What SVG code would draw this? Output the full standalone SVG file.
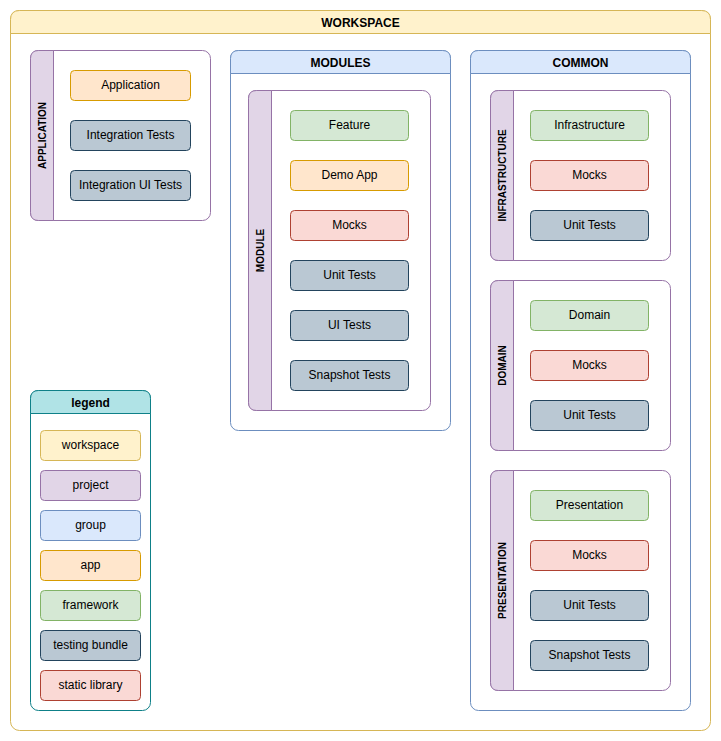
<svg xmlns="http://www.w3.org/2000/svg" width="721" height="741" viewBox="0 0 721 741">
  <style>
    text { font-family: "Liberation Sans", Arial, Helvetica, sans-serif; font-size: 12px; fill: #000; text-anchor: middle; }
    .title { font-weight: bold; }
    .vlabel { font-weight: bold; font-size: 10px; }
    .body { fill: #ffffff; }
    .ws { stroke: #d6b656; }
    .ws-h { fill: #fff2cc; stroke: #d6b656; }
    .proj { stroke: #9673a6; }
    .proj-h { fill: #e1d5e7; stroke: #9673a6; }
    .grp { stroke: #6c8ebf; }
    .grp-h { fill: #dae8fc; stroke: #6c8ebf; }
    .leg { stroke: #0e8088; }
    .leg-h { fill: #b0e3e6; stroke: #0e8088; }
    .workspace { fill: #fff2cc; stroke: #d6b656; }
    .project { fill: #e1d5e7; stroke: #9673a6; }
    .group { fill: #dae8fc; stroke: #6c8ebf; }
    .app { fill: #ffe6cc; stroke: #d79b00; }
    .framework { fill: #d5e8d4; stroke: #82b366; }
    .testing { fill: #bac8d3; stroke: #23445d; }
    .static { fill: #fad9d5; stroke: #ae4132; }
  </style>

  <!-- Workspace container -->
  <g id="workspace">
    <rect class="body ws" x="10.5" y="10.5" width="700" height="720" rx="9"/>
    <path class="ws-h" d="M10.5,33.5 V19.5 Q10.5,10.5 19.5,10.5 H701.5 Q710.5,10.5 710.5,19.5 V33.5 Z"/>
    <text class="title" x="360.5" y="27">WORKSPACE</text>
  </g>

  <!-- Application project -->
  <g id="application">
    <rect class="body proj" x="30.5" y="50.5" width="180" height="170" rx="8"/>
    <path class="proj-h" d="M53.5,50.5 H38.5 Q30.5,50.5 30.5,58.5 V212.5 Q30.5,220.5 38.5,220.5 H53.5 Z"/>
    <text class="vlabel" transform="translate(45.5,135.5) rotate(-90)">APPLICATION</text>
  </g>
  <g id="app-application">
    <rect class="app" x="70.5" y="70.5" width="120" height="30" rx="4"/>
    <text x="130.5" y="89">Application</text>
  </g>
  <g id="app-integration-tests">
    <rect class="testing" x="70.5" y="120.5" width="120" height="30" rx="4"/>
    <text x="130.5" y="139">Integration Tests</text>
  </g>
  <g id="app-integration-ui-tests">
    <rect class="testing" x="70.5" y="170.5" width="120" height="30" rx="4"/>
    <text x="130.5" y="189">Integration UI Tests</text>
  </g>

  <!-- Modules group -->
  <g id="modules">
    <rect class="body grp" x="230.5" y="50.5" width="220" height="380" rx="8"/>
    <path class="grp-h" d="M230.5,73.5 V58.5 Q230.5,50.5 238.5,50.5 H442.5 Q450.5,50.5 450.5,58.5 V73.5 Z"/>
    <text class="title" x="340.5" y="67">MODULES</text>
  </g>
  <g id="module">
    <rect class="body proj" x="248.5" y="90.5" width="182" height="320" rx="8"/>
    <path class="proj-h" d="M271.5,90.5 H256.5 Q248.5,90.5 248.5,98.5 V402.5 Q248.5,410.5 256.5,410.5 H271.5 Z"/>
    <text class="vlabel" transform="translate(263.5,250.5) rotate(-90)">MODULE</text>
  </g>
  <g id="module-feature">
    <rect class="framework" x="290.5" y="110.5" width="118" height="30" rx="4"/>
    <text x="349.5" y="129">Feature</text>
  </g>
  <g id="module-demo-app">
    <rect class="app" x="290.5" y="160.5" width="118" height="30" rx="4"/>
    <text x="349.5" y="179">Demo App</text>
  </g>
  <g id="module-mocks">
    <rect class="static" x="290.5" y="210.5" width="118" height="30" rx="4"/>
    <text x="349.5" y="229">Mocks</text>
  </g>
  <g id="module-unit-tests">
    <rect class="testing" x="290.5" y="260.5" width="118" height="30" rx="4"/>
    <text x="349.5" y="279">Unit Tests</text>
  </g>
  <g id="module-ui-tests">
    <rect class="testing" x="290.5" y="310.5" width="118" height="30" rx="4"/>
    <text x="349.5" y="329">UI Tests</text>
  </g>
  <g id="module-snapshot-tests">
    <rect class="testing" x="290.5" y="360.5" width="118" height="30" rx="4"/>
    <text x="349.5" y="379">Snapshot Tests</text>
  </g>

  <!-- Common group -->
  <g id="common">
    <rect class="body grp" x="470.5" y="50.5" width="220" height="660" rx="8"/>
    <path class="grp-h" d="M470.5,73.5 V58.5 Q470.5,50.5 478.5,50.5 H682.5 Q690.5,50.5 690.5,58.5 V73.5 Z"/>
    <text class="title" x="580.5" y="67">COMMON</text>
  </g>

  <g id="infrastructure">
    <rect class="body proj" x="490.5" y="90.5" width="180" height="170" rx="8"/>
    <path class="proj-h" d="M513.5,90.5 H498.5 Q490.5,90.5 490.5,98.5 V252.5 Q490.5,260.5 498.5,260.5 H513.5 Z"/>
    <text class="vlabel" transform="translate(505.5,175.5) rotate(-90)">INFRASTRUCTURE</text>
  </g>
  <g id="infrastructure-framework">
    <rect class="framework" x="530.5" y="110.5" width="118" height="30" rx="4"/>
    <text x="589.5" y="129">Infrastructure</text>
  </g>
  <g id="infrastructure-mocks">
    <rect class="static" x="530.5" y="160.5" width="118" height="30" rx="4"/>
    <text x="589.5" y="179">Mocks</text>
  </g>
  <g id="infrastructure-unit-tests">
    <rect class="testing" x="530.5" y="210.5" width="118" height="30" rx="4"/>
    <text x="589.5" y="229">Unit Tests</text>
  </g>

  <g id="domain">
    <rect class="body proj" x="490.5" y="280.5" width="180" height="170" rx="8"/>
    <path class="proj-h" d="M513.5,280.5 H498.5 Q490.5,280.5 490.5,288.5 V442.5 Q490.5,450.5 498.5,450.5 H513.5 Z"/>
    <text class="vlabel" transform="translate(505.5,365.5) rotate(-90)">DOMAIN</text>
  </g>
  <g id="domain-framework">
    <rect class="framework" x="530.5" y="300.5" width="118" height="30" rx="4"/>
    <text x="589.5" y="319">Domain</text>
  </g>
  <g id="domain-mocks">
    <rect class="static" x="530.5" y="350.5" width="118" height="30" rx="4"/>
    <text x="589.5" y="369">Mocks</text>
  </g>
  <g id="domain-unit-tests">
    <rect class="testing" x="530.5" y="400.5" width="118" height="30" rx="4"/>
    <text x="589.5" y="419">Unit Tests</text>
  </g>

  <g id="presentation">
    <rect class="body proj" x="490.5" y="470.5" width="180" height="220" rx="8"/>
    <path class="proj-h" d="M513.5,470.5 H498.5 Q490.5,470.5 490.5,478.5 V682.5 Q490.5,690.5 498.5,690.5 H513.5 Z"/>
    <text class="vlabel" transform="translate(505.5,580.5) rotate(-90)">PRESENTATION</text>
  </g>
  <g id="presentation-framework">
    <rect class="framework" x="530.5" y="490.5" width="118" height="30" rx="4"/>
    <text x="589.5" y="509">Presentation</text>
  </g>
  <g id="presentation-mocks">
    <rect class="static" x="530.5" y="540.5" width="118" height="30" rx="4"/>
    <text x="589.5" y="559">Mocks</text>
  </g>
  <g id="presentation-unit-tests">
    <rect class="testing" x="530.5" y="590.5" width="118" height="30" rx="4"/>
    <text x="589.5" y="609">Unit Tests</text>
  </g>
  <g id="presentation-snapshot-tests">
    <rect class="testing" x="530.5" y="640.5" width="118" height="30" rx="4"/>
    <text x="589.5" y="659">Snapshot Tests</text>
  </g>

  <!-- Legend -->
  <g id="legend">
    <rect class="body leg" x="30.5" y="390.5" width="120" height="320" rx="8"/>
    <path class="leg-h" d="M30.5,413.5 V398.5 Q30.5,390.5 38.5,390.5 H142.5 Q150.5,390.5 150.5,398.5 V413.5 Z"/>
    <text class="title" x="90.5" y="407">legend</text>
  </g>
  <g id="legend-workspace">
    <rect class="workspace" x="40.5" y="430.5" width="100" height="30" rx="4"/>
    <text x="90.5" y="449">workspace</text>
  </g>
  <g id="legend-project">
    <rect class="project" x="40.5" y="470.5" width="100" height="30" rx="4"/>
    <text x="90.5" y="489">project</text>
  </g>
  <g id="legend-group">
    <rect class="group" x="40.5" y="510.5" width="100" height="30" rx="4"/>
    <text x="90.5" y="529">group</text>
  </g>
  <g id="legend-app">
    <rect class="app" x="40.5" y="550.5" width="100" height="30" rx="4"/>
    <text x="90.5" y="569">app</text>
  </g>
  <g id="legend-framework">
    <rect class="framework" x="40.5" y="590.5" width="100" height="30" rx="4"/>
    <text x="90.5" y="609">framework</text>
  </g>
  <g id="legend-testing-bundle">
    <rect class="testing" x="40.5" y="630.5" width="100" height="30" rx="4"/>
    <text x="90.5" y="649">testing bundle</text>
  </g>
  <g id="legend-static-library">
    <rect class="static" x="40.5" y="670.5" width="100" height="30" rx="4"/>
    <text x="90.5" y="689">static library</text>
  </g>

  <g id="connectors"/>
</svg>
